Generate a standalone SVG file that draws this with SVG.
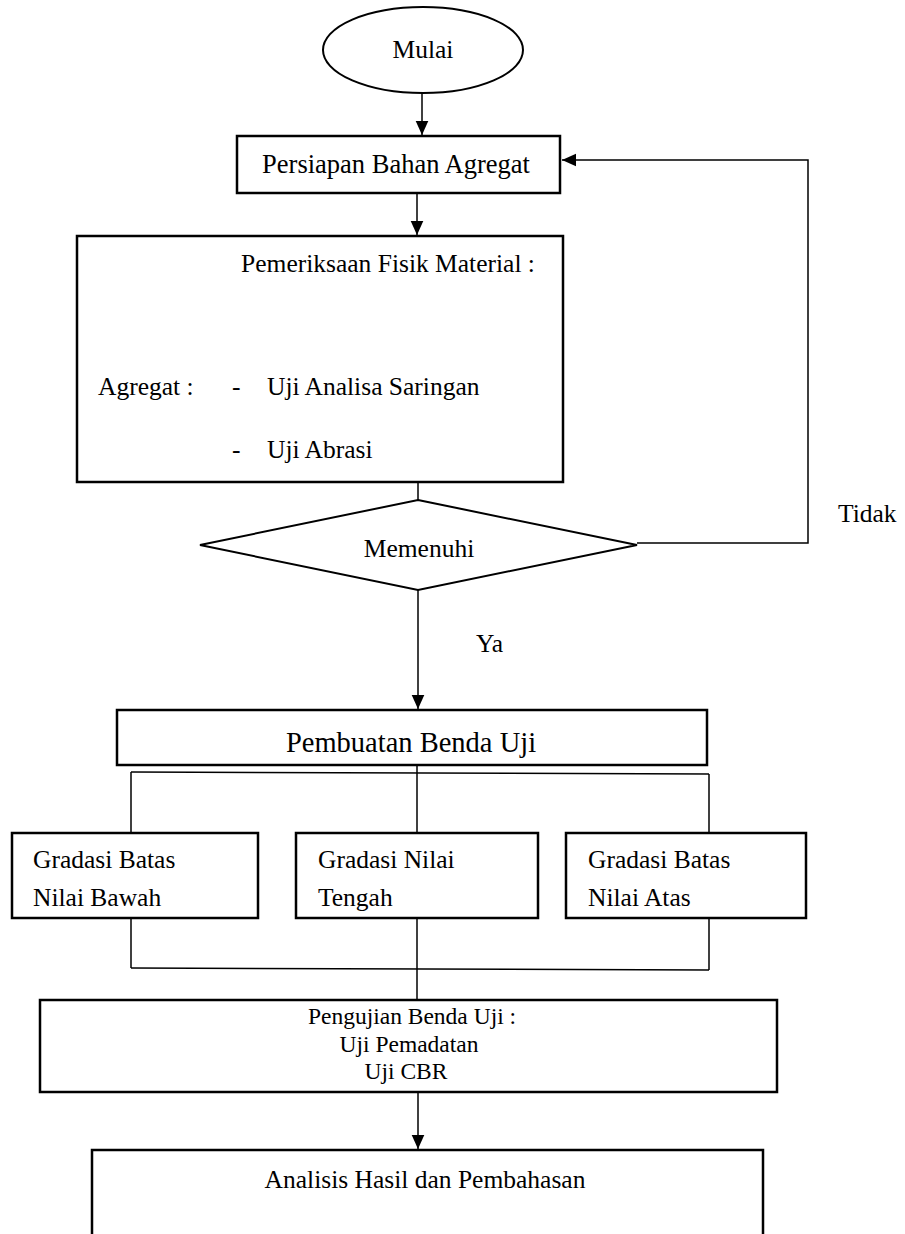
<svg xmlns="http://www.w3.org/2000/svg" width="905" height="1234" viewBox="0 0 905 1234">
<style>
text{font-family:"Liberation Serif","Times New Roman",serif;font-size:25.5px;fill:#000}
.c{text-anchor:middle}
.box{fill:#fff;stroke:#000;stroke-width:2.5}
.ln{fill:none;stroke:#000;stroke-width:1.5}
.sm{font-size:23.5px}
</style>
<defs>
<marker id="ahb" viewBox="0 0 10 10" refX="10" refY="5" markerWidth="14" markerHeight="14" markerUnits="userSpaceOnUse" orient="auto">
<path d="M0,0.5 L10,5 L0,9.5 z" fill="#000"/>
</marker>
</defs>
<g id="connectors">
<line class="ln" x1="422" y1="93" x2="422" y2="135" marker-end="url(#ahb)"/>
<line class="ln" x1="417" y1="193" x2="417" y2="235" marker-end="url(#ahb)"/>
<line class="ln" x1="418" y1="482" x2="418" y2="500"/>
<polyline class="ln" points="637,543 808,543 808,160 562,160" marker-end="url(#ahb)"/>
<line class="ln" x1="418" y1="590" x2="418" y2="709" marker-end="url(#ahb)"/>
<line class="ln" x1="417" y1="765" x2="417" y2="833"/>
<line class="ln" x1="131" y1="772" x2="709" y2="774"/>
<line class="ln" x1="131" y1="772" x2="131" y2="833"/>
<line class="ln" x1="709" y1="774" x2="709" y2="833"/>
<line class="ln" x1="131" y1="918" x2="131" y2="968"/>
<line class="ln" x1="709" y1="918" x2="709" y2="970"/>
<line class="ln" x1="131" y1="968" x2="709" y2="970"/>
<line class="ln" x1="417" y1="918" x2="417" y2="1000"/>
<line class="ln" x1="418" y1="1092" x2="418" y2="1149" marker-end="url(#ahb)"/>
</g>
<g id="mulai">
<ellipse cx="423" cy="50" rx="100" ry="43" fill="#fff" stroke="#000" stroke-width="2"/>
<text class="c" x="423" y="58">Mulai</text>
</g>
<g id="persiapan">
<rect class="box" x="237" y="136" width="323" height="57"/>
<text class="c" x="396" y="173" style="font-size:26.5px">Persiapan Bahan Agregat</text>
</g>
<g id="pemeriksaan">
<rect class="box" x="77" y="236" width="486" height="246"/>
<text class="c" x="388" y="272">Pemeriksaan Fisik Material :</text>
<text x="98" y="395">Agregat :</text>
<text x="232" y="395">-</text>
<text x="267" y="395">Uji Analisa Saringan</text>
<text x="232" y="458">-</text>
<text x="267" y="458">Uji Abrasi</text>
</g>
<g id="memenuhi">
<polygon points="418,500 637,545 418,590 200,545" fill="#fff" stroke="#000" stroke-width="2"/>
<text class="c" x="419" y="557">Memenuhi</text>
</g>
<g id="label-tidak"><text x="838" y="522">Tidak</text></g>
<g id="label-ya"><text x="476" y="652">Ya</text></g>
<g id="pembuatan">
<rect class="box" x="117" y="710" width="590" height="55"/>
<text class="c" x="411" y="752" style="font-size:28.5px">Pembuatan Benda Uji</text>
</g>
<g id="gradasi-bawah">
<rect class="box" x="12" y="833" width="246" height="85"/>
<text x="33" y="868">Gradasi Batas</text>
<text x="33" y="906">Nilai Bawah</text>
</g>
<g id="gradasi-tengah">
<rect class="box" x="296" y="833" width="242" height="85"/>
<text x="318" y="868">Gradasi Nilai</text>
<text x="318" y="906">Tengah</text>
</g>
<g id="gradasi-atas">
<rect class="box" x="566" y="833" width="240" height="85"/>
<text x="588" y="868">Gradasi Batas</text>
<text x="588" y="906">Nilai Atas</text>
</g>
<g id="pengujian">
<rect class="box" x="40" y="1000" width="737" height="92"/>
<text class="c sm" x="412" y="1024">Pengujian Benda Uji :</text>
<text class="c sm" x="409" y="1051.5">Uji Pemadatan</text>
<text class="c sm" x="406" y="1079">Uji CBR</text>
</g>
<g id="analisis">
<rect class="box" x="92" y="1150" width="671" height="100"/>
<text class="c" x="425" y="1188">Analisis Hasil dan Pembahasan</text>
</g>
</svg>
